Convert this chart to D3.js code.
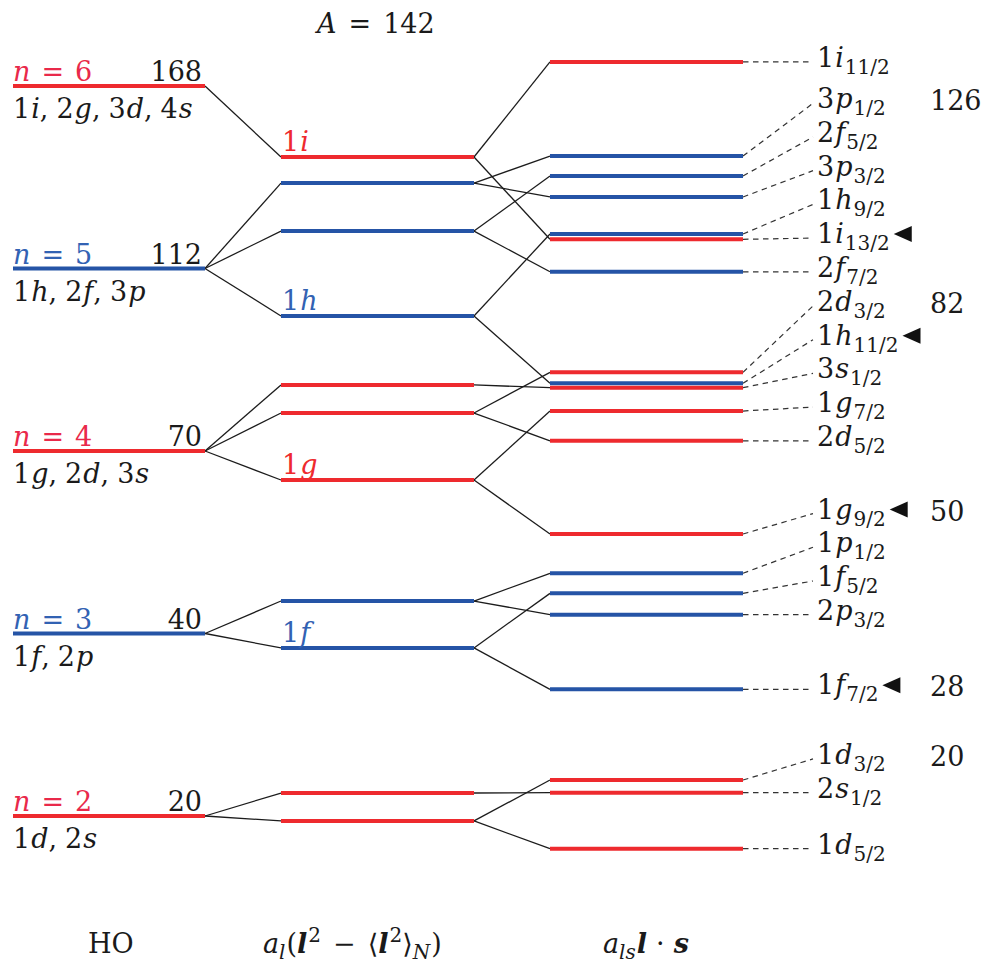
<!DOCTYPE html>
<html>
<head>
<meta charset="utf-8">
<script src="https://cdn.jsdelivr.net/npm/d3@7"></script>
<style>
  body { margin: 0; background: #fff; }
  svg { display: block; }
  text { font-family: "DejaVu Serif", "Liberation Serif", serif; fill: #1a1a1a; }
</style>
</head>
<body>
<svg id="chart" width="981" height="965"></svg>
<script>
// Harmonic-oscillator shells (energies in units of ħω, E = n + 3/2)
const shellN = [6, 5, 4, 3, 2];
const shellEnergy = [7.5, 6.5, 5.5, 4.5, 3.5];
const shellMagic = [168, 112, 70, 40, 20];
const shellOrbitals = [["1i", "2g", "3d", "4s"], ["1h", "2f", "3p"], ["1g", "2d", "3s"], ["1f", "2p"], ["1d", "2s"]];

// Levels after the l² term
const lLevels = ["1i", "3p", "2f", "1h", "3s", "2d", "1g", "2p", "1f", "2s", "1d"];
const lShell = [6, 5, 5, 5, 4, 4, 4, 3, 3, 2, 2];
const lEnergy = [7.111, 6.968, 6.705, 6.240, 5.862, 5.708, 5.341, 4.678, 4.421, 3.626, 3.473];
const lTagged = ["1i", "1h", "1g", "1f"];

// Levels after the spin-orbit term
const jLevels = ["1i11/2", "3p1/2", "2f5/2", "3p3/2", "1h9/2", "1i13/2", "2f7/2", "2d3/2", "1h11/2", "3s1/2",
                 "1g7/2", "2d5/2", "1g9/2", "1p1/2", "1f5/2", "2p3/2", "1f7/2", "1d3/2", "2s1/2", "1d5/2"];
const jParent = ["1i", "3p", "2f", "3p", "1h", "1i", "2f", "2d", "1h", "3s",
                 "1g", "2d", "1g", "2p", "1f", "2p", "1f", "1d", "2s", "1d"];
const jEnergy = [7.632, 7.116, 7.007, 6.892, 6.689, 6.660, 6.482, 5.931, 5.871, 5.847,
                 5.719, 5.556, 5.045, 4.830, 4.720, 4.603, 4.194, 3.697, 3.628, 3.321];
const intruders = ["1i13/2", "1h11/2", "1g9/2", "1f7/2"];

// Magic numbers and the level that closes each gap
const magicNumbers = [126, 82, 50, 28, 20];
const magicAfter = ["3p1/2", "2d3/2", "1g9/2", "1f7/2", "1d3/2"];

// ---------------------------------------------------------------
const RED = "#ee2a2e", BLUE = "#2554a6", RED_TXT = "#e9294a", BLUE_TXT = "#3262b3";
const FS = 27, SUB = 20;
const col = { ho: [13, 205], l: [281, 474], j: [550, 743] };
const labelX = 817, dashEnd = 813, rowGap = 33.7;

const svg = d3.select("#chart");
const y = d3.scaleLinear().domain([3.5, 7.5]).range([816, 86]);

const isRed = n => n % 2 === 0;
const lookupL = {};
lLevels.forEach((name, i) => lookupL[name] = { shell: lShell[i], E: lEnergy[i] });

// digit + italic letter, e.g. "1i"
function orbital(t, name, dx) {
  const d = t.append("tspan").text(name[0]);
  if (dx) d.attr("dx", dx);
  t.append("tspan").attr("font-style", "italic").attr("dx", 1).text(name.slice(1));
}

const gDash = svg.append("g").attr("stroke", "#333").attr("stroke-width", 1.2)
  .attr("stroke-dasharray", "5.5,4.5").attr("fill", "none");
const gConn = svg.append("g").attr("stroke", "#1c1c1c").attr("stroke-width", 1.3).attr("fill", "none");
const gLines = svg.append("g").attr("stroke-width", 4);
const gText = svg.append("g").attr("font-size", FS);

// HO → l-split connectors
lLevels.forEach((name, i) => {
  const s = shellN.indexOf(lShell[i]);
  gConn.append("line")
    .attr("x1", col.ho[1]).attr("y1", y(shellEnergy[s]))
    .attr("x2", col.l[0]).attr("y2", y(lEnergy[i]));
});
// l-split → spin-orbit connectors
jLevels.forEach((name, i) => {
  const p = lookupL[jParent[i]];
  gConn.append("line")
    .attr("x1", col.l[1]).attr("y1", y(p.E))
    .attr("x2", col.j[0]).attr("y2", y(jEnergy[i]));
});

// HO shells
shellN.forEach((n, i) => {
  const yy = y(shellEnergy[i]);
  gLines.append("line").attr("x1", col.ho[0]).attr("x2", col.ho[1])
    .attr("y1", yy).attr("y2", yy).attr("stroke", isRed(n) ? RED : BLUE);
  const t = gText.append("text").attr("x", col.ho[0]).attr("y", yy - 5)
    .style("fill", isRed(n) ? RED_TXT : BLUE_TXT);
  t.append("tspan").attr("font-style", "italic").text("n");
  t.append("tspan").attr("dx", 11).text("=");
  t.append("tspan").attr("dx", 11).text(n);
  gText.append("text").attr("x", col.ho[1] - 3).attr("y", yy - 5)
    .attr("text-anchor", "end").text(shellMagic[i]);
  const o = gText.append("text").attr("x", col.ho[0]).attr("y", yy + 32);
  shellOrbitals[i].forEach((name, k) => {
    orbital(o, name, k ? 8 : 0);
    if (k < shellOrbitals[i].length - 1) o.append("tspan").text(",");
  });
});

// l-split levels
lLevels.forEach((name, i) => {
  const yy = y(lEnergy[i]);
  const red = isRed(lShell[i]);
  gLines.append("line").attr("x1", col.l[0]).attr("x2", col.l[1])
    .attr("y1", yy).attr("y2", yy).attr("stroke", red ? RED : BLUE);
  if (lTagged.includes(name)) {
    const t = gText.append("text").attr("x", col.l[0] + 1).attr("y", yy - 6)
      .style("fill", red ? RED : BLUE_TXT);
    orbital(t, name);
  }
});

// spin-orbit levels, labels pushed apart from the bottom up
const order = d3.range(jLevels.length).sort((a, b) => jEnergy[a] - jEnergy[b]);
const rowY = {};
let prev = Infinity;
order.forEach(i => {
  const yy = Math.min(y(jEnergy[i]), prev - rowGap);
  rowY[jLevels[i]] = yy;
  prev = yy;
});

jLevels.forEach((name, i) => {
  const yy = y(jEnergy[i]);
  const red = isRed(lookupL[jParent[i]].shell);
  gLines.append("line").attr("x1", col.j[0]).attr("x2", col.j[1])
    .attr("y1", yy).attr("y2", yy).attr("stroke", red ? RED : BLUE);
  const ry = rowY[name];
  gDash.append("line").attr("x1", col.j[1]).attr("y1", yy).attr("x2", dashEnd).attr("y2", ry);
  const t = gText.append("text").attr("x", labelX).attr("y", ry + 5);
  orbital(t, name.slice(0, 2));
  t.append("tspan").attr("font-size", SUB).attr("dy", 7).attr("dx", 1).text(name.slice(2));
  if (intruders.includes(name)) {
    const xe = labelX + t.node().getComputedTextLength() + 6;
    const cy = ry + 5 - 9;
    svg.append("path")
      .attr("d", `M${xe},${cy} L${xe + 18},${cy - 8} L${xe + 18},${cy + 8} Z`)
      .attr("fill", "#111");
  }
});

// magic numbers
magicNumbers.forEach((m, i) => {
  gText.append("text").attr("x", 930).attr("y", rowY[magicAfter[i]] + 7).text(m);
});

// title
const title = gText.append("text").attr("x", 317).attr("y", 33);
title.append("tspan").attr("font-style", "italic").text("A");
title.append("tspan").attr("dx", 12).text("=");
title.append("tspan").attr("dx", 12).text("142");

// column captions
gText.append("text").attr("x", 88).attr("y", 953).text("HO");

const c2 = gText.append("text").attr("x", 263).attr("y", 953);
c2.append("tspan").attr("font-style", "italic").text("a");
c2.append("tspan").attr("font-style", "italic").attr("font-size", SUB).attr("dy", 6).text("l");
c2.append("tspan").attr("dy", -6).attr("dx", 1).text("(");
c2.append("tspan").attr("font-style", "italic").attr("font-weight", "bold").text("l");
c2.append("tspan").attr("font-size", SUB).attr("dy", -11).attr("dx", 1).text("2");
c2.append("tspan").attr("dy", 11).attr("dx", 12).text("−");
c2.append("tspan").attr("dx", 12).text("⟨");
c2.append("tspan").attr("font-style", "italic").attr("font-weight", "bold").text("l");
c2.append("tspan").attr("font-size", SUB).attr("dy", -11).attr("dx", 1).text("2");
c2.append("tspan").attr("dy", 11).text("⟩");
c2.append("tspan").attr("font-style", "italic").attr("font-size", SUB).attr("dy", 6).text("N");
c2.append("tspan").attr("dy", -6).attr("dx", 1).text(")");

const c3 = gText.append("text").attr("x", 603).attr("y", 953);
c3.append("tspan").attr("font-style", "italic").text("a");
c3.append("tspan").attr("font-style", "italic").attr("font-size", SUB).attr("dy", 6).text("ls");
c3.append("tspan").attr("dy", -6).attr("dx", 1).attr("font-style", "italic").attr("font-weight", "bold").text("l");
c3.append("tspan").attr("dx", 9).text("·");
c3.append("tspan").attr("dx", 9).attr("font-style", "italic").attr("font-weight", "bold").text("s");
</script>
</body>
</html>
